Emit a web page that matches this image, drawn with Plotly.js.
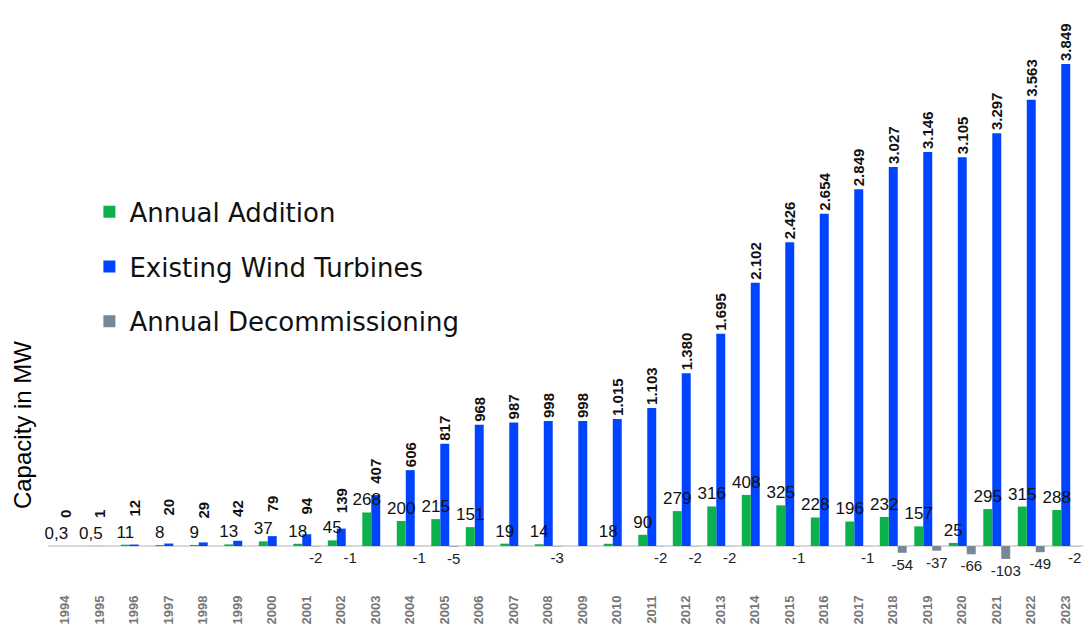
<!DOCTYPE html>
<html>
<head>
<meta charset="utf-8">
<script src="https://cdn.plot.ly/plotly-3.0.1.min.js"></script>
<style>html,body{margin:0;padding:0;background:#fff}#chart{width:1083px;height:625px}</style>
</head>
<body>
<div id="chart"></div>
<script>
const years = ['1994','1995','1996','1997','1998','1999','2000','2001','2002','2003','2004','2005','2006','2007','2008','2009','2010','2011','2012','2013','2014','2015','2016','2017','2018','2019','2020','2021','2022','2023'];
const annualAddition = [0.3,0.5,11,8,9,13,37,18,45,268,200,215,151,19,14,null,18,90,279,316,408,325,228,196,232,157,25,295,315,288];
const existingTurbines = [0,1,12,20,29,42,79,94,139,407,606,817,968,987,998,998,1015,1103,1380,1695,2102,2426,2654,2849,3027,3146,3105,3297,3563,3849];
const decommissioning = [null,null,null,null,null,null,null,-2,-1,null,-1,-5,null,null,-3,null,null,-2,-2,-2,null,-1,null,-1,-54,-37,-66,-103,-49,-2];
const seriesNames = ['Annual Addition','Existing Wind Turbines','Annual Decommissioning'];

const thousands = v => v == null ? '' : String(v).replace(/\B(?=(\d{3})+(?!\d))/g, '.');
const decimalComma = v => v == null ? '' : String(v).replace('.', ',');
const plain = v => v == null ? '' : String(v);

// layout geometry
const H = 625, MT = 0, MB = 33;
const YR = [-367, 4360];
const pxPerUnit = (H - MT - MB) / (YR[1] - YR[0]);
const GREEN_FONT = 17, BLUE_FONT = 15;

// keep rotated blue labels clear of the green labels next to them
const NBSP = '\u00a0';
const blueText = existingTurbines.map((b, i) => {
  const g = annualAddition[i] || 0;
  const greenTop = g * pxPerUnit + 3 + GREEN_FONT * 1.15;
  const blueBottom = b * pxPerUnit + 3;
  const pad = Math.max(0, greenTop + 5 - blueBottom);
  const n = Math.round(pad / (0.278 * BLUE_FONT));
  return NBSP.repeat(n) + thousands(b);
});

const W = 0.26;
const blue = {
  type:'bar', x: years, y: existingTurbines, name: seriesNames[1],
  legendgroup:'b', legendrank: 2,
  width: W, offset: -W/2,
  marker:{color:'#0044ff'},
  text: blueText, textposition:'outside', textangle:-90,
  constraintext:'none', cliponaxis:false,
  textfont:{family:'Liberation Sans, Arial, sans-serif', size:BLUE_FONT, color:'#111', weight:'bold'},
  hoverinfo:'x+y'
};
const green = {
  type:'bar', x: years, y: annualAddition, name: seriesNames[0],
  legendgroup:'a', legendrank: 1,
  width: W, offset: -1.5*W,
  marker:{color:'#0db14b'},
  text: annualAddition.map(decimalComma), textposition:'outside', textangle:0,
  constraintext:'none', cliponaxis:false,
  textfont:{family:'Liberation Sans, Arial, sans-serif', size:GREEN_FONT, color:'#111'},
  hoverinfo:'x+y'
};
const gray = {
  type:'bar', x: years, y: decommissioning, name: seriesNames[2],
  legendgroup:'c', legendrank: 3,
  width: W, offset: W/2,
  marker:{color:'#778899'},
  text: decommissioning.map(plain), textposition:'outside', textangle:0,
  constraintext:'none', cliponaxis:false,
  textfont:{family:'Liberation Sans, Arial, sans-serif', size:15, color:'#222'},
  hoverinfo:'x+y'
};

const layout = {
  width:1083, height:H,
  margin:{l:48, r:0, t:MT, b:MB},
  paper_bgcolor:'#fff', plot_bgcolor:'#fff',
  barmode:'overlay',
  showlegend:true,
  legend:{x:0.04, xanchor:'left', y:0.682, yanchor:'top', tracegroupgap:18,
    font:{family:'DejaVu Sans, sans-serif', size:26, color:'#111'}, bgcolor:'rgba(0,0,0,0)'},
  xaxis:{type:'category', range:[-0.5, 29.5], tickangle:-90, showgrid:false, zeroline:false,
    showline:false, ticks:'',
    tickfont:{family:'Liberation Sans, Arial, sans-serif', size:13, color:'#767676', weight:'bold'}},
  yaxis:{range:YR, showticklabels:false, showgrid:false, zeroline:true,
    zerolinecolor:'#d9d9d9', zerolinewidth:2, ticks:''},
  annotations:[{text:'Capacity in MW', xref:'paper', yref:'paper', x:0, xshift:-26, y:0.282,
    xanchor:'center', yanchor:'middle', textangle:-90, showarrow:false,
    font:{family:'Liberation Sans, Arial, sans-serif', size:24, color:'#000'}}]
};

Plotly.newPlot('chart', [blue, green, gray], layout, {displayModeBar:false, staticPlot:true});
</script>
</body>
</html>
